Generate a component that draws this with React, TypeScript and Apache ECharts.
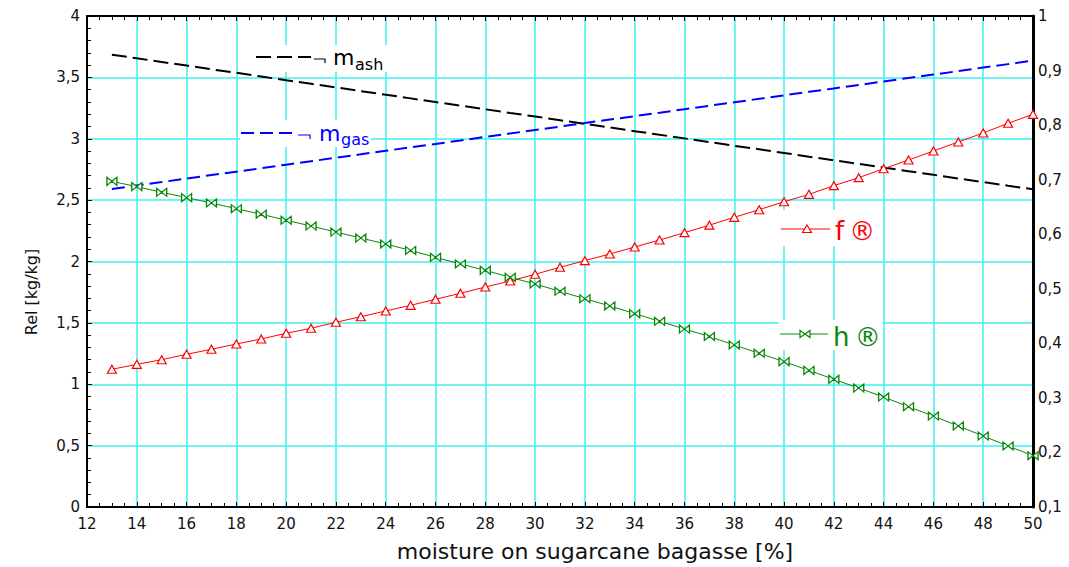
import React, { useEffect, useRef } from 'react';
import * as echarts from 'echarts';

const moisture = [13, 14, 15, 16, 17, 18, 19, 20, 21, 22, 23, 24, 25, 26, 27, 28, 29, 30, 31, 32, 33, 34, 35, 36, 37, 38, 39, 40, 41, 42, 43, 44, 45, 46, 47, 48, 49, 50];

const fValues = [1.122, 1.162, 1.2, 1.244, 1.285, 1.328, 1.369, 1.415, 1.456, 1.505, 1.55, 1.597, 1.643, 1.692, 1.741, 1.792, 1.841, 1.896, 1.953, 2.007, 2.061, 2.118, 2.175, 2.235, 2.296, 2.36, 2.422, 2.487, 2.547, 2.618, 2.683, 2.756, 2.827, 2.9, 2.974, 3.047, 3.126, 3.199];

const hValues = [2.653, 2.61, 2.564, 2.52, 2.477, 2.43, 2.385, 2.336, 2.289, 2.24, 2.191, 2.143, 2.09, 2.034, 1.98, 1.928, 1.871, 1.817, 1.757, 1.697, 1.638, 1.575, 1.513, 1.45, 1.389, 1.32, 1.252, 1.184, 1.113, 1.04, 0.969, 0.896, 0.817, 0.741, 0.66, 0.578, 0.497, 0.418];

const mAshValues = [3.685, 3.655, 3.626, 3.596, 3.566, 3.537, 3.507, 3.477, 3.448, 3.418, 3.388, 3.359, 3.329, 3.299, 3.27, 3.24, 3.21, 3.181, 3.151, 3.121, 3.092, 3.062, 3.032, 3.003, 2.973, 2.943, 2.914, 2.884, 2.854, 2.825, 2.795, 2.765, 2.736, 2.706, 2.676, 2.647, 2.617, 2.588];

const mGasValues = [2.591, 2.619, 2.647, 2.676, 2.704, 2.732, 2.76, 2.789, 2.817, 2.845, 2.873, 2.902, 2.93, 2.958, 2.986, 3.015, 3.043, 3.071, 3.099, 3.128, 3.156, 3.184, 3.212, 3.241, 3.269, 3.297, 3.325, 3.354, 3.382, 3.41, 3.438, 3.467, 3.495, 3.523, 3.551, 3.58, 3.608, 3.636];

const xAxisTitle = 'moisture on sugarcane bagasse [%]';
const yAxisTitle = 'Rel [kg/kg]';

const FONT = '"DejaVu Sans", "Liberation Sans", Arial, sans-serif';
const GRID = '#3ff0f0';
const RED = '#ff0000';
const GREEN = '#0a870a';
const BLUE = '#0000ff';
const BOWTIE = 'path://M0,0L0,10L10,5ZM20,0L20,10L10,5Z';

const comma = (v: number) => String(Math.round(v * 10) / 10).replace('.', ',');

export default function App() {
  const ref = useRef<HTMLDivElement>(null);

  useEffect(() => {
    const chart = echarts.init(ref.current!, null, { renderer: 'svg' });
    const pairs = (vals: number[]) => moisture.map((x, i) => [x, vals[i]]);

    const option: any = {
      animation: false,
      backgroundColor: '#fff',
      grid: { left: 87, right: 36, top: 16, bottom: 60, containLabel: false },
      xAxis: [
        {
          type: 'value', position: 'bottom', min: 12, max: 50, interval: 2,
          axisLine: { show: true, onZero: false, lineStyle: { color: '#000', width: 2 } },
          axisTick: { show: true, inside: true, length: 5, lineStyle: { color: '#000' } },
          minorTick: { show: true, splitNumber: 4, length: 4, lineStyle: { color: '#000' } },
          axisLabel: { color: '#111', fontFamily: FONT, fontSize: 15, margin: 9 },
          splitLine: { show: true, lineStyle: { color: GRID, width: 1.5 } },
        },
        {
          type: 'value', position: 'top', min: 12, max: 50, interval: 2,
          axisLine: { show: true, onZero: false, lineStyle: { color: '#000', width: 2 } },
          axisTick: { show: true, inside: true, length: 5, lineStyle: { color: '#000' } },
          minorTick: { show: true, splitNumber: 4, length: 4, lineStyle: { color: '#000' } },
          axisLabel: { show: false },
          splitLine: { show: false },
        },
      ],
      yAxis: [
        {
          type: 'value', position: 'left', min: 0, max: 4, interval: 0.5,
          axisLine: { show: true, onZero: false, lineStyle: { color: '#000', width: 2 } },
          axisTick: { show: true, inside: true, length: 5, lineStyle: { color: '#000' } },
          minorTick: { show: true, splitNumber: 5, length: 4, lineStyle: { color: '#000' } },
          axisLabel: { color: '#111', fontFamily: FONT, fontSize: 15, margin: 7, formatter: comma },
          splitLine: { show: true, lineStyle: { color: GRID, width: 1.5 } },
        },
        {
          type: 'value', position: 'right', min: 0.1, max: 1, interval: 0.1,
          axisLine: { show: true, onZero: false, lineStyle: { color: '#000', width: 3 } },
          axisTick: { show: false },
          axisLabel: { color: '#111', fontFamily: FONT, fontSize: 15, margin: 5, formatter: comma },
          splitLine: { show: false },
        },
      ],
      series: [
        {
          name: 'm_ash', type: 'line', xAxisIndex: 0, yAxisIndex: 0,
          data: pairs(mAshValues), showSymbol: false, symbol: 'none',
          lineStyle: { color: '#000', width: 2, type: [15, 6] },
          z: 3,
        },
        {
          name: 'm_gas', type: 'line', xAxisIndex: 0, yAxisIndex: 0,
          data: pairs(mGasValues), showSymbol: false, symbol: 'none',
          lineStyle: { color: BLUE, width: 2, type: [13, 6] },
          z: 3,
        },
        {
          name: 'f®', type: 'line', xAxisIndex: 0, yAxisIndex: 0,
          data: pairs(fValues), symbol: 'triangle', symbolSize: [9, 8],
          lineStyle: { color: RED, width: 1 },
          itemStyle: { color: '#fff', borderColor: RED, borderWidth: 1.2 },
          z: 4,
        },
        {
          name: 'h®', type: 'line', xAxisIndex: 0, yAxisIndex: 0,
          data: pairs(hValues), symbol: BOWTIE, symbolSize: [10, 8],
          lineStyle: { color: GREEN, width: 1 },
          itemStyle: { color: '#fff', borderColor: GREEN, borderWidth: 1.2 },
          z: 4,
        },
      ],
      graphic: [
        // axis titles
        {
          type: 'text', x: 595, y: 551, z: 10,
          style: { text: xAxisTitle, fill: '#111', font: `22px ${FONT}`, textAlign: 'center', textVerticalAlign: 'middle' },
        },
        {
          type: 'text', x: 31, y: 292, rotation: Math.PI / 2, z: 10,
          style: { text: yAxisTitle, fill: '#111', font: `16px ${FONT}`, textAlign: 'center', textVerticalAlign: 'middle' },
        },
        // m_ash legend
        { type: 'rect', z: 10, shape: { x: 250, y: 45, width: 146, height: 27 }, style: { fill: '#fff' } },
        { type: 'line', z: 11, shape: { x1: 256, y1: 57, x2: 311, y2: 57 }, style: { stroke: '#000', lineWidth: 2, lineDash: [15, 6] } },
        { type: 'polyline', z: 11, shape: { points: [[314, 59], [325, 59], [325, 63]] }, style: { stroke: '#000', lineWidth: 1.2, fill: 'none' } },
        { type: 'text', z: 11, x: 333, y: 57, style: { text: 'm', fill: '#000', font: `22px ${FONT}`, textAlign: 'left', textVerticalAlign: 'middle' } },
        { type: 'text', z: 11, x: 355, y: 64, style: { text: 'ash', fill: '#000', font: `16px ${FONT}`, textAlign: 'left', textVerticalAlign: 'middle' } },
        // m_gas legend
        { type: 'rect', z: 10, shape: { x: 240, y: 120, width: 131, height: 27 }, style: { fill: '#fff' } },
        { type: 'line', z: 11, shape: { x1: 241, y1: 133, x2: 293, y2: 133 }, style: { stroke: BLUE, lineWidth: 2, lineDash: [13, 6] } },
        { type: 'polyline', z: 11, shape: { points: [[298, 135], [310, 135], [310, 139]] }, style: { stroke: BLUE, lineWidth: 1.2, fill: 'none' } },
        { type: 'text', z: 11, x: 319, y: 133, style: { text: 'm', fill: BLUE, font: `22px ${FONT}`, textAlign: 'left', textVerticalAlign: 'middle' } },
        { type: 'text', z: 11, x: 341, y: 139, style: { text: 'gas', fill: BLUE, font: `16px ${FONT}`, textAlign: 'left', textVerticalAlign: 'middle' } },
        // f legend
        { type: 'rect', z: 10, shape: { x: 780, y: 210, width: 100, height: 36 }, style: { fill: '#fff' } },
        { type: 'line', z: 11, shape: { x1: 781, y1: 229, x2: 830, y2: 229 }, style: { stroke: RED, lineWidth: 1 } },
        { type: 'polygon', z: 12, shape: { points: [[807, 225], [811.5, 232.5], [802.5, 232.5]] }, style: { fill: '#fff', stroke: RED, lineWidth: 1.2 } },
        { type: 'text', z: 11, x: 835, y: 231, style: { text: 'f\u2009®', fill: RED, font: `26px ${FONT}`, textAlign: 'left', textVerticalAlign: 'middle' } },
        // h legend
        { type: 'rect', z: 10, shape: { x: 779, y: 320, width: 104, height: 30 }, style: { fill: '#fff' } },
        { type: 'line', z: 11, shape: { x1: 780, y1: 334, x2: 828, y2: 334 }, style: { stroke: GREEN, lineWidth: 1 } },
        { type: 'polygon', z: 12, shape: { points: [[800, 330.5], [800, 337.5], [805, 334]] }, style: { fill: '#fff', stroke: GREEN, lineWidth: 1.2 } },
        { type: 'polygon', z: 12, shape: { points: [[810, 330.5], [810, 337.5], [805, 334]] }, style: { fill: '#fff', stroke: GREEN, lineWidth: 1.2 } },
        { type: 'text', z: 11, x: 833, y: 337, style: { text: 'h\u2009®', fill: GREEN, font: `26px ${FONT}`, textAlign: 'left', textVerticalAlign: 'middle' } },
      ],
    };

    chart.setOption(option);
    return () => chart.dispose();
  }, []);

  return (
    <div
      ref={ref}
      style={{ position: 'fixed', left: 0, top: 0, width: 1069, height: 567, background: '#fff' }}
    />
  );
}
